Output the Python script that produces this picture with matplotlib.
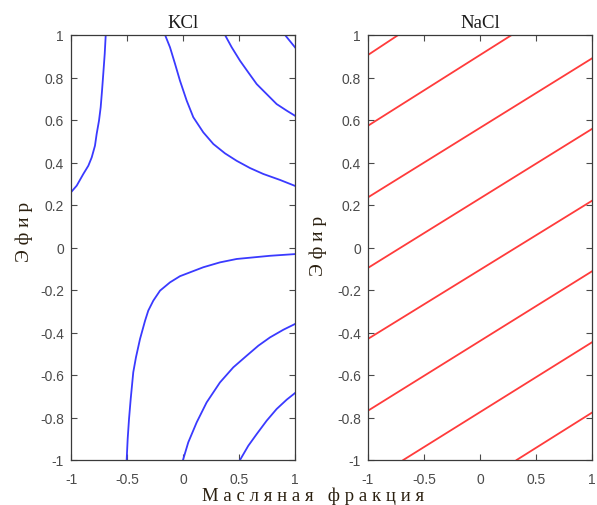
import matplotlib
matplotlib.use("Agg")
import matplotlib.pyplot as plt

# KCl contour lines
kcl_lines = [
    ([-1.0, -0.949, -0.89, -0.845, -0.815, -0.786, -0.771, -0.75, -0.735, -0.723, -0.712, -0.699, -0.69],
     [0.26, 0.291, 0.346, 0.385, 0.424, 0.479, 0.534, 0.597, 0.66, 0.738, 0.816, 0.911, 1.0]),
    ([-0.16, -0.116, -0.071, -0.027, 0.033, 0.092, 0.181, 0.271, 0.375, 0.479, 0.598, 0.717, 0.866, 1.0],
     [1.0, 0.942, 0.864, 0.785, 0.691, 0.613, 0.542, 0.487, 0.443, 0.408, 0.374, 0.346, 0.318, 0.29]),
    ([0.375, 0.435, 0.509, 0.583, 0.658, 0.747, 0.836, 0.926, 1.0],
     [1.0, 0.942, 0.879, 0.824, 0.769, 0.722, 0.675, 0.644, 0.62]),
    ([0.911, 0.96, 1.0],
     [1.0, 0.968, 0.942]),
    ([-0.503, -0.494, -0.482, -0.467, -0.444, -0.42, -0.384, -0.339, -0.31, -0.265, -0.205,
      -0.116, -0.027, 0.181, 0.33, 0.479, 0.777, 1.0],
     [-1.0, -0.901, -0.807, -0.713, -0.587, -0.517, -0.431, -0.345, -0.297, -0.25, -0.203,
      -0.164, -0.135, -0.093, -0.07, -0.054, -0.039, -0.031]),
    ([0.0, 0.047, 0.122, 0.211, 0.33, 0.449, 0.569, 0.673, 0.777, 0.896, 1.0],
     [-1.0, -0.917, -0.823, -0.729, -0.635, -0.564, -0.509, -0.462, -0.423, -0.387, -0.36]),
    ([0.509, 0.583, 0.658, 0.747, 0.836, 0.926, 1.0],
     [-1.0, -0.933, -0.878, -0.815, -0.76, -0.716, -0.685]),
]

# NaCl straight lines: (x0, x1), (y0, y1)
nacl_lines = [
    ([-1.0, -0.73], [0.906, 1.0]),
    ([-1.0, 0.283], [0.573, 1.0]),
    ([-1.0, 1.0], [0.236, 0.89]),
    ([-1.0, 1.0], [-0.096, 0.558]),
    ([-1.0, 1.0], [-0.43, 0.22]),
    ([-1.0, 1.0], [-0.768, -0.112]),
    ([-0.685, 1.0], [-1.0, -0.446]),
    ([0.327, 1.0], [-1.0, -0.777]),
]

x_ticks = [-1, -0.5, 0, 0.5, 1]
x_tick_labels = ["-1", "-0.5", "0", "0.5", "1"]
y_ticks = [-1, -0.8, -0.6, -0.4, -0.2, 0, 0.2, 0.4, 0.6, 0.8, 1]
y_tick_labels = ["-1", "-0.8", "-0.6", "-0.4", "-0.2", "0", "0.2", "0.4", "0.6", "0.8", "1"]

titles = ["KCl", "NaCl"]
y_label = "Э ф и р"
x_label = "М а с л я н а я   ф р а к ц и я"

serif = ["Liberation Serif", "DejaVu Serif"]
sans = ["Liberation Sans", "DejaVu Sans"]

fig = plt.figure(figsize=(5.97, 5.06), dpi=100)
ax1 = fig.add_axes([71 / 597, 45 / 506, 224 / 597, 425 / 506])
ax2 = fig.add_axes([368 / 597, 45 / 506, 224 / 597, 425 / 506])

for xs, ys in kcl_lines:
    ax1.plot(xs, ys, color="#3a3aff", linewidth=1.3)
for xs, ys in nacl_lines:
    ax2.plot(xs, ys, color="#ff3b3b", linewidth=1.3)

for ax, title in zip([ax1, ax2], titles):
    ax.set_xlim(-1, 1)
    ax.set_ylim(-1, 1)
    ax.set_xticks(x_ticks)
    ax.set_xticklabels(x_tick_labels, family=sans)
    ax.set_yticks(y_ticks)
    ax.set_yticklabels(y_tick_labels, family=sans)
    ax.tick_params(direction="in", length=4, width=0.8, top=True, right=True,
                   labelsize=10, colors="#4a4a4a", pad=5)
    ax.tick_params(axis="x", pad=9)
    for sp in ax.spines.values():
        sp.set_color("#3a3a3a")
        sp.set_linewidth(0.9)
    ax.set_title(title, family=serif, fontsize=13.5, color="#1a1a1a", pad=6)

ax1.set_ylabel(y_label, family=serif, fontsize=14, color="#2b2010")
ax1.yaxis.set_label_coords(-0.17, 0.54)
ax2.set_ylabel(y_label, family=serif, fontsize=14, color="#2b2010")
ax2.yaxis.set_label_coords(-0.185, 0.505)

fig.text(313 / 597, 1 - 496 / 506, x_label, family=serif, fontsize=13.5,
         color="#2b2010", ha="center", va="center")

fig.savefig("out.png", dpi=100)
